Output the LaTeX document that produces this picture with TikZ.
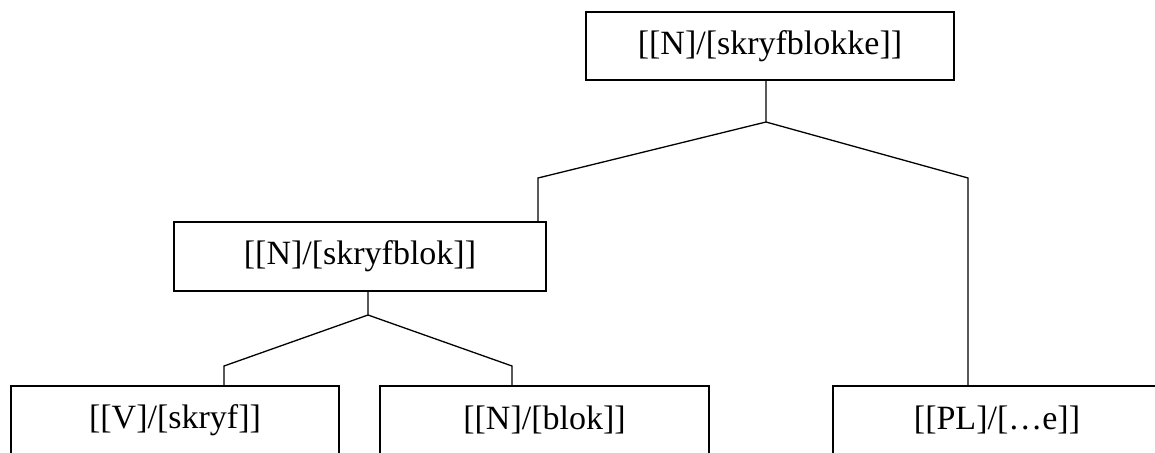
\documentclass[tikz,border=0pt]{standalone}
\usepackage{fontspec}
\setmainfont{Liberation Serif}
\usetikzlibrary{positioning, calc}

\begin{document}
\begin{tikzpicture}[x=1pt, y=-1pt]
\tikzset{
  morph/.style={
    draw,
    rectangle,
    fill=white,
    line width=2pt,
    minimum height=68pt,
    inner sep=0pt,
    font=\fontsize{34}{40}\selectfont
  },
  leaf/.style={
    morph,
    minimum width=328pt
  },
  branch/.style={
    line width=1.3pt
  }
}
\useasboundingbox (0,0) rectangle (1155,452);
\clip (0,0) rectangle (1155,452);

% Root
\node[morph, minimum width=368pt] (root) at (770,46) {[[N]/[skryfblokke]]};

% Stem
\node[morph, minimum width=372pt, minimum height=69pt] (stem) at (360,256.5) {[[N]/[skryfblok]]};

% Leaves
\node[leaf] (verb) at (175,420) {[[V]/[skryf]]};
\node[leaf, minimum width=329pt] (noun) at (544.5,420) {[[N]/[blok]]};
\node[leaf] (plural) at (997,420) {[[PL]/[…e]]};

% Fork points
\coordinate (rootfork) at (766,122);
\coordinate (lbend) at (538,178);
\coordinate (rbend) at (968,178);
\coordinate (stemfork) at (368,315);
\coordinate (vbend) at (224,366);
\coordinate (nbend) at (512,366);

% Branches
\draw[branch] (rootfork |- root.south) -- (rootfork) -- (lbend) -- (lbend |- stem.north);
\draw[branch] (rootfork) -- (rbend) -- (rbend |- plural.north);
\draw[branch] (stemfork |- stem.south) -- (stemfork) -- (vbend) -- (vbend |- verb.north);
\draw[branch] (stemfork) -- (nbend) -- (nbend |- noun.north);

\end{tikzpicture}
\end{document}
